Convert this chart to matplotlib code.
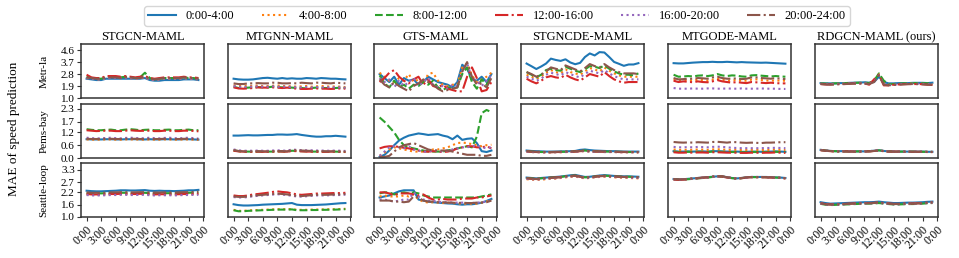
import matplotlib
matplotlib.use("Agg")
import matplotlib.pyplot as plt

plt.rcParams['font.family'] = ['Liberation Serif', 'DejaVu Serif']

hours = list(range(24))
tick_pos = [0, 3, 6, 9, 12, 15, 18, 21, 24]
tick_labels = ["0:00", "3:00", "6:00", "9:00", "12:00", "15:00", "18:00", "21:00", "0:00"]
series_names = ["0:00-4:00", "4:00-8:00", "8:00-12:00", "12:00-16:00", "16:00-20:00", "20:00-24:00"]
models = ["STGCN-MAML", "MTGNN-MAML", "GTS-MAML", "STGNCDE-MAML", "MTGODE-MAML", "RDGCN-MAML (ours)"]
datasets = ["Metr-la", "Pems-bay", "Seattle-loop"]
ytick_vals = [[1.0, 1.9, 2.8, 3.7, 4.6], [0.0, 0.6, 1.2, 1.7, 2.3], [1.0, 1.6, 2.2, 2.7, 3.3]]

# ---- Metr-la ----
metr_stgcn = [
    [2.45,2.4,2.35,2.35,2.45,2.45,2.45,2.45,2.45,2.45,2.45,2.45,2.5,2.35,2.3,2.3,2.35,2.35,2.35,2.35,2.4,2.4,2.4,2.35],
    [2.5,2.45,2.4,2.4,2.5,2.55,2.5,2.5,2.55,2.5,2.45,2.5,2.55,2.4,2.35,2.4,2.45,2.45,2.45,2.45,2.5,2.45,2.45,2.4],
    [2.6,2.5,2.45,2.45,2.55,2.6,2.6,2.55,2.6,2.55,2.5,2.55,2.9,2.5,2.4,2.45,2.5,2.5,2.5,2.5,2.55,2.5,2.5,2.45],
    [2.75,2.55,2.5,2.5,2.65,2.65,2.65,2.6,2.65,2.6,2.55,2.6,2.65,2.5,2.45,2.5,2.55,2.55,2.55,2.55,2.6,2.55,2.55,2.5],
    [2.5,2.45,2.4,2.4,2.5,2.5,2.5,2.5,2.5,2.5,2.45,2.5,2.55,2.4,2.35,2.4,2.45,2.45,2.45,2.45,2.5,2.45,2.45,2.4],
    [2.55,2.5,2.45,2.45,2.55,2.55,2.55,2.5,2.55,2.55,2.5,2.5,2.6,2.45,2.4,2.45,2.5,2.5,2.5,2.5,2.55,2.5,2.5,2.45],
]
metr_mtgnn = [
    [2.45,2.4,2.38,2.38,2.4,2.45,2.5,2.52,2.48,2.45,2.5,2.45,2.48,2.45,2.45,2.5,2.48,2.45,2.5,2.48,2.45,2.45,2.42,2.4],
    [1.95,1.9,1.9,1.92,1.9,1.95,1.9,1.9,1.92,1.95,1.9,1.9,1.88,1.85,1.88,1.9,1.85,1.88,1.9,1.88,1.85,1.88,1.85,1.82],
    [1.85,1.75,1.75,1.78,1.8,1.82,1.8,1.8,1.85,1.82,1.8,1.8,1.78,1.75,1.75,1.72,1.75,1.78,1.75,1.75,1.72,1.75,1.78,1.75],
    [1.8,1.72,1.7,1.72,1.75,1.8,1.78,1.78,1.8,1.78,1.75,1.78,1.75,1.7,1.68,1.68,1.7,1.72,1.7,1.7,1.68,1.7,1.72,1.7],
    [1.9,1.85,1.82,1.85,1.85,1.88,1.85,1.85,1.88,1.85,1.85,1.85,1.82,1.8,1.8,1.82,1.8,1.82,1.8,1.8,1.82,1.8,1.8,1.78],
    [2.1,2.05,2.05,2.1,2.1,2.12,2.1,2.1,2.15,2.15,2.1,2.1,2.12,2.1,2.15,2.12,2.1,2.15,2.15,2.12,2.1,2.15,2.12,2.1],
]
metr_gts = [
    [2.8,2.5,2.2,2.6,2.0,2.5,2.3,2.4,2.0,2.2,2.6,2.4,2.2,2.1,2.0,1.8,2.2,3.5,3.2,2.4,2.3,2.6,2.2,2.8],
    [2.9,2.6,2.3,2.2,2.5,2.3,2.8,2.2,2.4,2.1,2.8,2.9,2.3,2.0,1.9,2.0,2.0,3.3,3.6,2.7,2.2,2.4,2.6,2.9],
    [2.7,2.1,1.8,2.3,1.8,2.0,1.7,2.0,1.9,2.2,2.0,2.3,1.8,1.6,1.8,1.7,1.8,2.8,3.3,2.2,1.7,2.4,2.0,2.6],
    [2.2,2.5,2.9,3.1,2.6,2.3,2.1,2.4,2.6,2.0,2.4,1.9,1.8,2.0,1.7,1.6,1.5,1.5,2.6,3.3,2.5,1.5,1.6,2.2],
    [2.5,2.2,2.4,1.8,2.3,1.9,2.2,2.5,1.9,2.2,2.5,2.0,1.8,1.9,1.7,2.0,1.9,3.0,3.6,2.5,2.3,1.9,2.3,2.7],
    [2.4,2.0,1.8,2.2,1.9,1.7,1.5,1.9,2.1,2.4,2.2,2.0,1.7,1.5,1.6,1.7,1.8,3.0,3.7,2.6,2.0,2.1,1.8,2.5],
]
metr_stgncde = [
    [3.59,3.39,3.18,3.37,3.59,3.96,3.86,3.79,3.91,3.67,3.54,3.64,4.08,4.35,4.2,4.45,4.42,4.08,3.71,3.57,3.42,3.52,3.52,3.62],
    [2.75,2.6,2.45,2.6,2.9,3.1,2.95,2.85,3.15,2.95,2.85,2.75,3.0,3.25,3.15,3.0,3.3,3.05,2.85,2.7,2.6,2.6,2.6,2.6],
    [2.95,2.75,2.55,2.75,3.1,3.2,3.1,3.05,3.35,3.2,3.05,2.95,3.15,3.4,3.35,3.25,3.45,3.2,3.0,2.85,2.75,2.75,2.7,2.85],
    [2.45,2.25,2.1,2.3,2.55,2.65,2.55,2.5,2.75,2.55,2.4,2.3,2.55,2.8,2.7,2.6,2.95,2.65,2.4,2.25,2.15,2.2,2.2,2.2],
    [2.6,2.45,2.3,2.45,2.75,2.9,2.8,2.7,2.95,2.8,2.65,2.55,2.8,3.05,2.95,2.85,3.1,2.85,2.65,2.5,2.4,2.4,2.4,2.4],
    [2.95,2.8,2.6,2.75,3.0,3.3,3.2,3.1,3.45,3.3,3.15,3.0,3.25,3.55,3.4,3.3,3.55,3.3,3.1,2.95,2.85,2.85,2.85,2.8],
]
metr_mtgode = [
    [3.62,3.6,3.6,3.63,3.66,3.68,3.7,3.7,3.72,3.7,3.7,3.72,3.7,3.68,3.7,3.68,3.67,3.66,3.65,3.66,3.64,3.62,3.6,3.58],
    [2.4,2.3,2.32,2.35,2.3,2.38,2.35,2.3,2.38,2.45,2.38,2.3,2.32,2.35,2.3,2.3,2.38,2.4,2.35,2.32,2.3,2.32,2.3,2.3],
    [2.75,2.6,2.62,2.65,2.62,2.68,2.7,2.65,2.7,2.8,2.7,2.65,2.7,2.68,2.62,2.6,2.7,2.72,2.68,2.65,2.62,2.65,2.62,2.6],
    [2.3,2.2,2.25,2.22,2.18,2.25,2.2,2.18,2.25,2.35,2.25,2.2,2.15,2.2,2.15,2.12,2.2,2.18,2.15,2.12,2.15,2.12,2.1,2.1],
    [1.75,1.7,1.7,1.7,1.72,1.7,1.7,1.72,1.72,1.7,1.7,1.72,1.7,1.7,1.72,1.7,1.7,1.7,1.72,1.7,1.7,1.7,1.68,1.68],
    [2.5,2.4,2.42,2.45,2.45,2.5,2.48,2.45,2.55,2.6,2.5,2.45,2.45,2.48,2.42,2.45,2.55,2.55,2.5,2.48,2.45,2.5,2.45,2.42],
]
metr_rdgcn = [
    [2.12,2.1,2.1,2.1,2.12,2.12,2.14,2.15,2.16,2.18,2.15,2.2,2.6,2.2,2.1,2.1,2.12,2.12,2.12,2.14,2.14,2.14,2.12,2.15],
    [2.08,2.05,2.05,2.07,2.08,2.1,2.1,2.12,2.12,2.12,2.08,2.35,2.8,2.1,2.0,2.02,2.05,2.06,2.08,2.1,2.08,2.08,2.06,2.05],
    [2.1,2.08,2.08,2.1,2.1,2.12,2.12,2.14,2.15,2.15,2.12,2.3,2.85,2.3,2.05,2.05,2.08,2.1,2.1,2.12,2.12,2.12,2.1,2.12],
    [2.05,2.02,2.02,2.04,2.05,2.05,2.08,2.1,2.1,2.1,2.0,2.4,2.75,1.95,1.95,2.0,2.02,2.04,2.05,2.05,2.05,2.04,2.0,1.98],
    [2.07,2.04,2.04,2.06,2.07,2.08,2.09,2.1,2.11,2.11,2.06,2.25,2.7,2.05,1.98,2.0,2.03,2.05,2.06,2.08,2.07,2.06,2.04,2.03],
    [2.05,2.02,2.0,2.02,2.04,2.05,2.06,2.08,2.1,2.08,2.05,2.2,2.7,2.0,1.95,1.98,2.0,2.02,2.04,2.05,2.04,2.02,2.0,2.0],
]

# ---- Pems-bay ----
pems_stgcn = [
    [0.88,0.87,0.87,0.87,0.88,0.88,0.87,0.87,0.88,0.88,0.88,0.87,0.87,0.88,0.87,0.87,0.88,0.88,0.87,0.87,0.88,0.88,0.87,0.86],
    [0.87,0.86,0.86,0.86,0.87,0.87,0.86,0.86,0.87,0.87,0.87,0.86,0.86,0.87,0.86,0.86,0.87,0.87,0.86,0.86,0.87,0.87,0.86,0.85],
    [1.35,1.32,1.3,1.3,1.32,1.33,1.3,1.3,1.33,1.35,1.33,1.3,1.32,1.33,1.3,1.3,1.32,1.33,1.3,1.3,1.32,1.33,1.3,1.3],
    [1.3,1.28,1.26,1.27,1.28,1.28,1.26,1.26,1.28,1.3,1.28,1.27,1.28,1.28,1.26,1.26,1.28,1.28,1.26,1.26,1.28,1.28,1.27,1.25],
    [0.95,0.93,0.92,0.92,0.94,0.95,0.93,0.92,0.94,0.95,0.94,0.92,0.93,0.95,0.93,0.92,0.94,0.95,0.93,0.92,0.94,0.95,0.93,0.91],
    [0.9,0.89,0.89,0.89,0.9,0.9,0.89,0.89,0.9,0.9,0.9,0.89,0.89,0.9,0.89,0.89,0.9,0.9,0.89,0.89,0.9,0.9,0.89,0.88],
]
pems_mtgnn = [
    [1.05,1.05,1.06,1.07,1.06,1.06,1.07,1.08,1.08,1.1,1.1,1.09,1.1,1.12,1.08,1.05,1.02,1.0,1.0,1.02,1.02,1.04,1.02,1.0],
    [0.35,0.32,0.3,0.3,0.3,0.31,0.3,0.3,0.31,0.32,0.31,0.3,0.36,0.35,0.34,0.33,0.32,0.32,0.31,0.3,0.3,0.31,0.3,0.29],
    [0.36,0.32,0.3,0.3,0.3,0.3,0.3,0.3,0.3,0.31,0.31,0.3,0.34,0.33,0.32,0.31,0.3,0.3,0.3,0.3,0.3,0.3,0.29,0.29],
    [0.34,0.31,0.3,0.29,0.29,0.3,0.29,0.3,0.3,0.31,0.3,0.3,0.33,0.32,0.31,0.3,0.3,0.29,0.29,0.29,0.3,0.3,0.29,0.28],
    [0.4,0.36,0.34,0.34,0.34,0.35,0.34,0.34,0.35,0.36,0.35,0.34,0.4,0.38,0.37,0.36,0.36,0.35,0.35,0.34,0.34,0.35,0.34,0.33],
    [0.37,0.33,0.31,0.31,0.31,0.32,0.31,0.31,0.32,0.33,0.32,0.31,0.37,0.36,0.35,0.34,0.33,0.33,0.32,0.31,0.31,0.32,0.31,0.3],
]
pems_gts = [
    [0.05,0.15,0.35,0.6,0.82,0.95,1.05,1.1,1.15,1.12,1.08,1.1,1.12,1.05,1.0,0.88,1.05,0.85,0.9,0.92,0.7,0.32,0.28,0.35],
    [0.1,0.25,0.4,0.5,0.45,0.4,0.35,0.3,0.3,0.3,0.35,0.4,0.4,0.45,0.5,0.6,0.7,0.72,0.7,0.65,0.6,0.55,0.6,0.62],
    [1.9,1.7,1.45,1.2,0.85,0.6,0.5,0.45,0.4,0.35,0.3,0.3,0.3,0.3,0.35,0.4,0.45,0.5,0.55,0.5,1.0,2.1,2.25,2.15],
    [0.45,0.52,0.55,0.55,0.52,0.48,0.45,0.4,0.35,0.3,0.3,0.32,0.3,0.28,0.3,0.35,0.45,0.5,0.55,0.55,0.5,0.5,0.55,0.45],
    [0.1,0.3,0.5,0.55,0.5,0.45,0.55,0.4,0.35,0.3,0.3,0.35,0.35,0.3,0.35,0.4,0.45,0.5,0.5,0.55,0.6,0.5,0.45,0.5],
    [0.05,0.05,0.1,0.3,0.5,0.6,0.65,0.7,0.6,0.5,0.4,0.35,0.35,0.35,0.35,0.3,0.25,0.2,0.15,0.15,0.15,0.1,0.1,0.15],
]
pems_stgncde = [
    [0.35,0.33,0.32,0.31,0.3,0.3,0.3,0.31,0.31,0.32,0.33,0.38,0.4,0.37,0.35,0.34,0.33,0.32,0.32,0.31,0.3,0.3,0.3,0.3],
    [0.3,0.28,0.27,0.27,0.26,0.26,0.27,0.27,0.28,0.28,0.29,0.3,0.33,0.3,0.29,0.29,0.28,0.28,0.28,0.27,0.27,0.27,0.27,0.26],
    [0.32,0.3,0.29,0.28,0.28,0.28,0.28,0.29,0.29,0.3,0.31,0.33,0.35,0.32,0.31,0.31,0.3,0.3,0.29,0.29,0.28,0.28,0.28,0.28],
    [0.31,0.29,0.28,0.28,0.27,0.27,0.28,0.28,0.29,0.29,0.3,0.32,0.34,0.31,0.3,0.3,0.29,0.29,0.29,0.28,0.28,0.28,0.28,0.27],
    [0.3,0.28,0.27,0.27,0.26,0.27,0.27,0.28,0.28,0.29,0.3,0.31,0.33,0.3,0.29,0.29,0.28,0.28,0.28,0.27,0.27,0.27,0.27,0.27],
    [0.32,0.3,0.29,0.29,0.28,0.28,0.29,0.29,0.3,0.3,0.31,0.33,0.35,0.32,0.31,0.3,0.3,0.3,0.29,0.29,0.29,0.28,0.28,0.28],
]
pems_mtgode = [
    [0.32,0.3,0.3,0.31,0.3,0.31,0.31,0.3,0.32,0.32,0.31,0.3,0.3,0.3,0.29,0.29,0.3,0.3,0.29,0.3,0.3,0.31,0.3,0.29],
    [0.4,0.38,0.38,0.39,0.38,0.4,0.39,0.38,0.4,0.41,0.4,0.38,0.38,0.38,0.37,0.37,0.38,0.38,0.37,0.38,0.38,0.39,0.38,0.37],
    [0.3,0.28,0.28,0.29,0.28,0.29,0.29,0.28,0.3,0.3,0.29,0.28,0.28,0.28,0.27,0.27,0.28,0.28,0.27,0.28,0.28,0.29,0.28,0.27],
    [0.27,0.25,0.25,0.26,0.25,0.26,0.26,0.25,0.27,0.27,0.26,0.25,0.25,0.25,0.24,0.24,0.25,0.25,0.24,0.25,0.25,0.26,0.25,0.24],
    [0.52,0.5,0.5,0.51,0.5,0.52,0.51,0.5,0.52,0.53,0.52,0.5,0.48,0.47,0.46,0.46,0.46,0.46,0.46,0.47,0.47,0.48,0.47,0.46],
    [0.75,0.73,0.72,0.73,0.72,0.74,0.73,0.72,0.75,0.76,0.74,0.72,0.75,0.74,0.72,0.71,0.72,0.71,0.7,0.72,0.72,0.73,0.74,0.74],
]
pems_rdgcn = [
    [0.38,0.35,0.33,0.32,0.32,0.32,0.31,0.31,0.31,0.31,0.32,0.34,0.36,0.33,0.31,0.3,0.3,0.3,0.3,0.3,0.3,0.3,0.29,0.29],
    [0.37,0.34,0.32,0.31,0.31,0.31,0.3,0.3,0.31,0.31,0.32,0.33,0.35,0.32,0.3,0.3,0.29,0.29,0.3,0.29,0.29,0.29,0.29,0.28],
    [0.38,0.35,0.33,0.32,0.31,0.31,0.31,0.31,0.31,0.32,0.32,0.34,0.36,0.33,0.31,0.3,0.3,0.3,0.3,0.3,0.29,0.29,0.29,0.29],
    [0.37,0.34,0.32,0.31,0.31,0.31,0.31,0.3,0.3,0.31,0.31,0.33,0.35,0.32,0.3,0.3,0.3,0.29,0.29,0.29,0.29,0.29,0.28,0.28],
    [0.38,0.35,0.33,0.32,0.32,0.31,0.31,0.31,0.31,0.31,0.32,0.34,0.36,0.33,0.31,0.31,0.3,0.3,0.3,0.3,0.3,0.29,0.29,0.29],
    [0.37,0.34,0.33,0.32,0.31,0.31,0.3,0.3,0.31,0.31,0.31,0.33,0.35,0.32,0.31,0.3,0.3,0.3,0.29,0.29,0.29,0.29,0.28,0.28],
]

# ---- Seattle-loop ----
seattle_stgcn = [
    [2.28,2.26,2.25,2.25,2.26,2.27,2.28,2.3,2.3,2.29,2.29,2.3,2.31,2.28,2.27,2.28,2.27,2.27,2.26,2.27,2.28,2.3,2.3,2.32],
    [2.1,2.08,2.08,2.08,2.09,2.1,2.1,2.11,2.11,2.1,2.1,2.11,2.11,2.09,2.08,2.09,2.09,2.09,2.08,2.09,2.1,2.1,2.11,2.12],
    [2.16,2.15,2.15,2.15,2.16,2.16,2.17,2.18,2.18,2.17,2.17,2.18,2.18,2.16,2.15,2.16,2.16,2.16,2.15,2.16,2.17,2.18,2.19,2.2],
    [2.12,2.1,2.1,2.1,2.11,2.12,2.12,2.13,2.13,2.12,2.12,2.13,2.13,2.11,2.1,2.11,2.11,2.11,2.1,2.11,2.12,2.12,2.13,2.13],
    [2.07,2.05,2.05,2.05,2.06,2.07,2.07,2.08,2.08,2.07,2.07,2.08,2.08,2.06,2.05,2.06,2.06,2.06,2.05,2.06,2.07,2.07,2.08,2.08],
    [2.2,2.18,2.18,2.18,2.19,2.2,2.2,2.21,2.21,2.2,2.2,2.21,2.21,2.2,2.19,2.19,2.2,2.2,2.19,2.2,2.21,2.21,2.22,2.23],
]
seattle_mtgnn = [
    [1.62,1.58,1.56,1.56,1.57,1.58,1.6,1.61,1.62,1.63,1.64,1.66,1.68,1.6,1.58,1.58,1.58,1.59,1.6,1.61,1.63,1.65,1.67,1.68],
    [1.35,1.3,1.3,1.32,1.33,1.34,1.35,1.36,1.37,1.38,1.38,1.38,1.39,1.35,1.35,1.35,1.36,1.36,1.37,1.37,1.38,1.38,1.39,1.4],
    [1.33,1.28,1.28,1.3,1.31,1.32,1.33,1.34,1.35,1.36,1.36,1.36,1.37,1.33,1.33,1.33,1.34,1.34,1.35,1.35,1.36,1.36,1.37,1.38],
    [2.05,2.02,2.02,2.05,2.1,2.12,2.15,2.18,2.22,2.25,2.22,2.2,2.15,2.1,2.08,2.1,2.12,2.14,2.14,2.15,2.16,2.17,2.16,2.18],
    [1.97,1.95,1.95,1.97,2.01,2.03,2.05,2.07,2.09,2.11,2.09,2.07,2.03,2.0,1.99,2.01,2.03,2.05,2.05,2.05,2.06,2.07,2.07,2.09],
    [2.0,1.98,1.98,2.0,2.04,2.06,2.08,2.1,2.12,2.14,2.12,2.1,2.06,2.03,2.02,2.04,2.06,2.08,2.08,2.08,2.09,2.1,2.1,2.12],
]
seattle_gts = [
    [1.95,2.0,2.05,2.15,2.25,2.3,2.3,2.3,1.85,1.8,1.75,1.72,1.7,1.68,1.66,1.65,1.62,1.6,1.62,1.62,1.65,1.7,1.78,1.88],
    [2.0,2.05,2.0,2.0,2.0,2.05,2.0,2.1,1.85,1.75,1.7,1.72,1.7,1.68,1.7,1.68,1.66,1.65,1.65,1.65,1.65,1.7,1.75,1.85],
    [2.15,2.2,2.2,2.1,2.15,2.2,2.15,2.2,2.15,2.05,2.0,1.95,1.95,1.95,1.95,1.95,1.95,1.95,1.95,1.95,1.95,2.0,2.05,2.1],
    [2.2,2.2,2.15,2.05,2.15,2.15,2.15,2.1,2.05,2.1,1.95,1.85,1.85,1.88,1.85,1.85,1.85,1.9,1.9,1.9,1.95,1.95,2.0,2.05],
    [1.85,1.85,1.8,1.75,1.8,1.85,1.85,2.2,2.0,1.85,1.8,1.78,1.75,1.72,1.72,1.7,1.7,1.7,1.68,1.68,1.7,1.72,1.75,1.8],
    [1.8,1.8,1.8,1.75,1.75,1.72,1.75,2.0,1.95,1.8,1.75,1.75,1.72,1.72,1.7,1.7,1.68,1.7,1.68,1.68,1.7,1.7,1.72,1.8],
]
seattle_stgncde = [
    [2.92,2.9,2.88,2.9,2.92,2.94,2.95,2.97,3.0,3.03,3.05,3.0,2.95,2.96,2.99,3.02,3.04,3.02,3.0,2.99,2.98,2.98,2.97,2.96],
    [2.84,2.82,2.8,2.82,2.84,2.86,2.87,2.9,2.93,2.95,2.97,2.92,2.88,2.9,2.93,2.95,2.96,2.95,2.93,2.92,2.91,2.9,2.89,2.88],
    [2.9,2.88,2.86,2.88,2.9,2.92,2.93,2.95,2.98,3.0,3.02,2.97,2.93,2.94,2.97,3.0,3.01,3.0,2.98,2.97,2.96,2.96,2.95,2.94],
    [2.88,2.86,2.85,2.87,2.89,2.91,2.92,2.95,2.97,2.99,3.01,2.96,2.92,2.93,2.96,2.99,3.0,2.99,2.97,2.96,2.95,2.95,2.94,2.93],
    [2.86,2.84,2.82,2.84,2.86,2.88,2.89,2.92,2.95,2.97,2.99,2.94,2.9,2.91,2.94,2.97,2.98,2.97,2.95,2.94,2.93,2.92,2.91,2.9],
    [2.89,2.87,2.85,2.87,2.89,2.91,2.92,2.94,2.97,3.0,3.01,2.96,2.92,2.93,2.96,2.99,3.0,2.99,2.97,2.96,2.95,2.95,2.94,2.92],
]
seattle_mtgode = [
    [2.85,2.84,2.84,2.86,2.88,2.9,2.92,2.94,2.96,2.98,2.98,2.94,2.9,2.88,2.9,2.93,2.95,2.95,2.95,2.95,2.94,2.93,2.92,2.9],
    [2.84,2.83,2.83,2.85,2.87,2.89,2.91,2.93,2.95,2.97,2.97,2.93,2.9,2.88,2.9,2.92,2.94,2.94,2.94,2.94,2.93,2.92,2.91,2.89],
    [2.83,2.82,2.82,2.84,2.86,2.88,2.9,2.92,2.95,2.97,2.97,2.93,2.89,2.87,2.89,2.92,2.94,2.94,2.94,2.94,2.93,2.92,2.91,2.89],
    [2.82,2.81,2.82,2.84,2.87,2.89,2.91,2.93,2.96,2.98,2.97,2.92,2.89,2.87,2.89,2.92,2.94,2.94,2.94,2.93,2.92,2.91,2.9,2.88],
    [2.84,2.83,2.83,2.85,2.87,2.89,2.91,2.93,2.95,2.97,2.97,2.93,2.9,2.88,2.9,2.92,2.94,2.94,2.94,2.94,2.93,2.92,2.91,2.89],
    [2.85,2.83,2.83,2.86,2.88,2.9,2.92,2.94,2.97,2.99,2.98,2.93,2.9,2.88,2.9,2.93,2.95,2.95,2.95,2.94,2.93,2.92,2.91,2.89],
]
seattle_rdgcn = [
    [1.72,1.68,1.65,1.66,1.67,1.68,1.69,1.7,1.71,1.72,1.72,1.73,1.75,1.72,1.7,1.68,1.68,1.69,1.7,1.7,1.71,1.72,1.74,1.75],
    [1.66,1.62,1.6,1.61,1.62,1.63,1.64,1.65,1.66,1.67,1.67,1.68,1.7,1.67,1.65,1.63,1.63,1.64,1.65,1.65,1.66,1.67,1.69,1.7],
    [1.64,1.6,1.58,1.59,1.6,1.61,1.62,1.63,1.64,1.65,1.65,1.66,1.68,1.65,1.63,1.61,1.61,1.62,1.63,1.63,1.64,1.65,1.67,1.68],
    [1.67,1.63,1.61,1.62,1.63,1.64,1.65,1.66,1.67,1.68,1.68,1.69,1.71,1.68,1.66,1.64,1.64,1.65,1.66,1.66,1.67,1.68,1.7,1.71],
    [1.65,1.61,1.59,1.6,1.61,1.62,1.63,1.64,1.65,1.66,1.66,1.67,1.69,1.66,1.64,1.62,1.62,1.63,1.64,1.64,1.65,1.66,1.68,1.69],
    [1.66,1.62,1.6,1.61,1.62,1.63,1.64,1.65,1.66,1.67,1.67,1.68,1.7,1.67,1.65,1.63,1.63,1.64,1.65,1.65,1.66,1.67,1.69,1.7],
]

panels = [
    [metr_stgcn, metr_mtgnn, metr_gts, metr_stgncde, metr_mtgode, metr_rdgcn],
    [pems_stgcn, pems_mtgnn, pems_gts, pems_stgncde, pems_mtgode, pems_rdgcn],
    [seattle_stgcn, seattle_mtgnn, seattle_gts, seattle_stgncde, seattle_mtgode, seattle_rdgcn],
]

colors = ["#1f77b4", "#ff7f0e", "#2ca02c", "#d62728", "#9467bd", "#8c564b"]
styles = ["-", ":", "--", "-.", ":", "-."]

W, H = 959, 258
fig = plt.figure(figsize=(W / 100, H / 100), dpi=100)

col_left = [81, 228, 374, 521, 668, 815]
ax_w = 123
row_top = [44, 104, 163]
ax_h = 54

handles = []
for r in range(3):
    lo = ytick_vals[r][0]
    hi = ytick_vals[r][-1]
    for c in range(6):
        ax = fig.add_axes([col_left[c] / W, 1 - (row_top[r] + ax_h) / H, ax_w / W, ax_h / H])
        for s in range(6):
            ln, = ax.plot(hours, panels[r][c][s], color=colors[s], linestyle=styles[s], lw=1.5)
            if r == 0 and c == 0:
                handles.append(ln)
        ax.set_xlim(-1.15, 24.15)
        ax.set_ylim(lo, hi * 1.1)
        for sp in ax.spines.values():
            sp.set_color("#333333")
            sp.set_linewidth(1.1)
        ax.tick_params(axis="both", labelsize=8, length=3, width=0.8, color="#333333", pad=1.5)
        if c == 0:
            ax.set_yticks(ytick_vals[r])
            ax.set_yticklabels(["%.1f" % v for v in ytick_vals[r]])
        else:
            ax.set_yticks([])
        if r == 2:
            ax.set_xticks(tick_pos)
            ax.set_xticklabels(tick_labels, rotation=45, ha="right", rotation_mode="anchor", fontsize=8.5)
        else:
            ax.set_xticks([])
        if r == 0:
            ax.set_title(models[c], fontsize=9, pad=3)
    fig.text(44 / W, 1 - (row_top[r] + ax_h / 2) / H, datasets[r], rotation=90,
             ha="center", va="center", fontsize=8)

fig.text(14 / W, 1 - 129 / H, "MAE of speed prediction", rotation=90, ha="center", va="center", fontsize=9.5)

fig.legend(handles, series_names, loc="center", bbox_to_anchor=(497 / W, 1 - 16 / H), ncol=6,
           fontsize=9, frameon=True, columnspacing=2.2, handlelength=2.2, borderpad=0.3)

fig.savefig("out.png", dpi=100)
